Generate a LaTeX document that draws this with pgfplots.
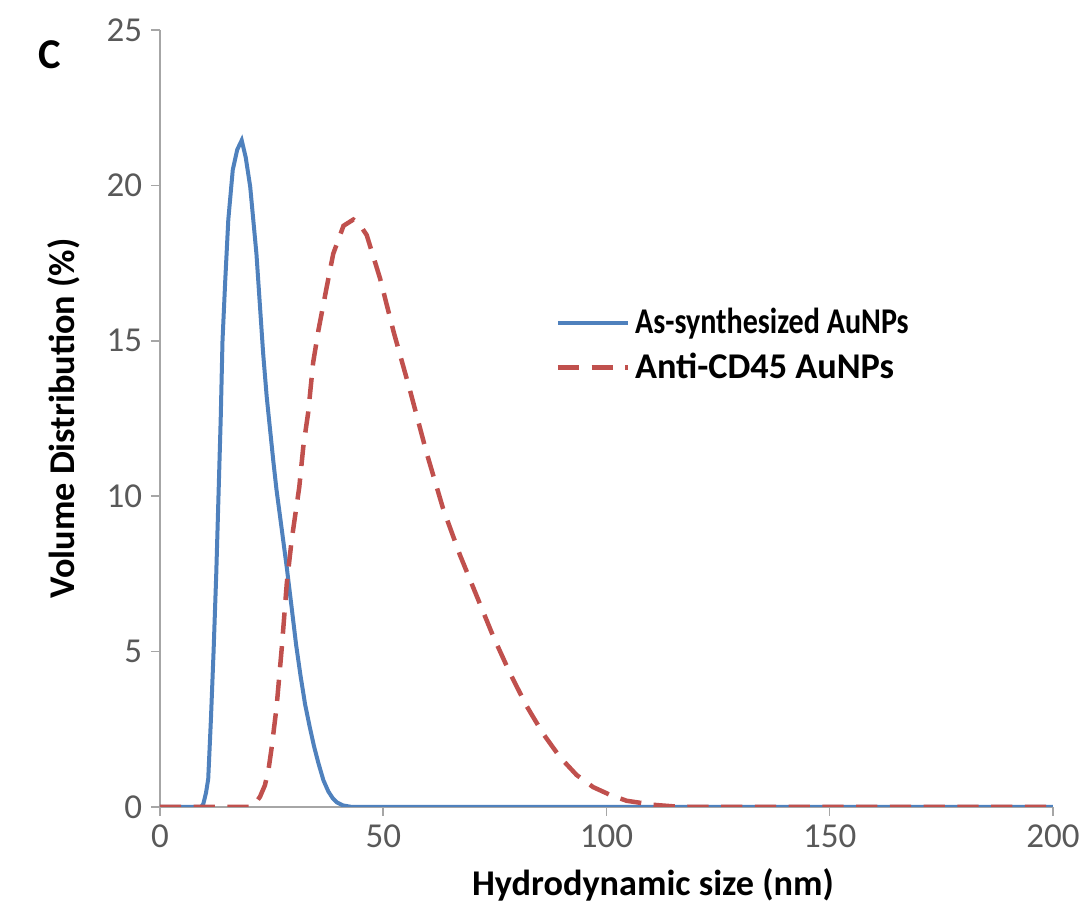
\documentclass[border=0pt]{standalone}
\usepackage{fontspec}
\setmainfont{Carlito}
\usepackage{graphicx}
\usepackage{pgfplots}
\pgfplotsset{compat=1.18}
\definecolor{serblue}{HTML}{4F81BD}
\definecolor{serred}{HTML}{C0504D}
\definecolor{axgray}{HTML}{A6A6A6}
\definecolor{ticktext}{HTML}{595959}

\begin{document}
\begin{tikzpicture}
% frame of the whole picture: 1087x907 px at 0.4pt per px, axis box at origin
\useasboundingbox (-64pt,-40pt) rectangle (370.8pt,322.8pt);
\begin{axis}[
    at={(0pt,0pt)}, anchor=south west,
    scale only axis,
    width=357.2pt, height=310.8pt,
    xmin=0, xmax=200, ymin=0, ymax=25,
    xtick={0,50,...,200}, ytick={0,5,...,25},
    axis lines*=left,
    axis line style={axgray, line width=0.6pt},
    tick style={axgray, line width=0.6pt},
    tick align=outside,
    major tick length=3.6pt,
    /pgf/number format/assume math mode=true,
    ticklabel style={font=\fontsize{14}{16}\selectfont, text=ticktext},
    xlabel={Hydrodynamic size (nm)},
    ylabel={Volume Distribution (\%)},
    label style={font=\bfseries\fontsize{14.5}{17}\selectfont},
    xlabel style={at={(axis description cs:0.552,-0.1)}, anchor=center},
    ylabel style={at={(axis description cs:-0.108,0.5)}, anchor=center},
    legend style={at={(0.434,0.655)}, anchor=north west, draw=none, fill=none,
        font=\bfseries\fontsize{14.5}{17}\selectfont, row sep=2pt,
        nodes={inner xsep=2pt}},
    legend cell align=left,
    legend image code/.code={\draw[#1] (0pt,0pt) -- (28pt,0pt);},
]
\addplot[serblue, line width=1.6pt] coordinates {
    (0,0) (9.2,0) (9.7,0.1) (10.3,0.45) (10.8,0.9) (11.4,2.8) (12.0,5.0)
    (12.6,7.5) (13.1,10.0) (13.6,12.5) (14.0,15.0) (14.6,16.9) (15.3,18.9)
    (16.3,20.5) (17.3,21.15) (18.3,21.45) (19.2,20.9) (20.2,19.96) (21.6,17.8)
    (23.1,14.6) (23.9,13.2) (25.4,11.1) (26.1,10.2) (27.3,8.9) (28.4,7.7)
    (29.5,6.4) (30.5,5.2) (31.5,4.2) (32.5,3.3) (33.5,2.6) (34.5,1.95)
    (35.5,1.4) (36.6,0.86) (37.7,0.5) (38.7,0.28) (39.6,0.15) (41,0.05)
    (43,0) (200,0)
};
\addlegendentry{\scalebox{0.83}[1]{As-synthesized AuNPs}}
\addplot[serred, line width=1.8pt, dash pattern=on 8.5pt off 5pt] coordinates {
    (0,0) (20,0) (21,0.05) (22.4,0.33) (23.5,0.7) (24.3,1.2) (25.0,1.9)
    (26.1,3.2) (27.3,5.16) (28.4,7.2) (29.5,8.6) (31.2,10.3) (32.1,11.6)
    (33.2,12.7) (34.3,14.3) (35.5,15.35) (36.5,16.1) (37.3,16.7) (38.8,17.8)
    (41.1,18.7) (43.3,18.9) (44.7,18.75) (46.3,18.4) (49.3,17.0) (52.3,15.3)
    (56.0,13.4) (59.7,11.4) (63.4,9.6) (67.2,8.1) (70.9,6.8) (74.6,5.5)
    (78.4,4.3) (82.1,3.25) (85.8,2.36) (89.6,1.6) (93.3,1.03) (97,0.64)
    (100.8,0.39) (104.5,0.2) (110.5,0.07) (115,0.02) (120,0) (200,0)
};
\addlegendentry{Anti-CD45 AuNPs}
\end{axis}
\node[font=\bfseries\fontsize{17}{20}\selectfont] at (-44pt,301pt) {C};
\end{tikzpicture}
\end{document}
